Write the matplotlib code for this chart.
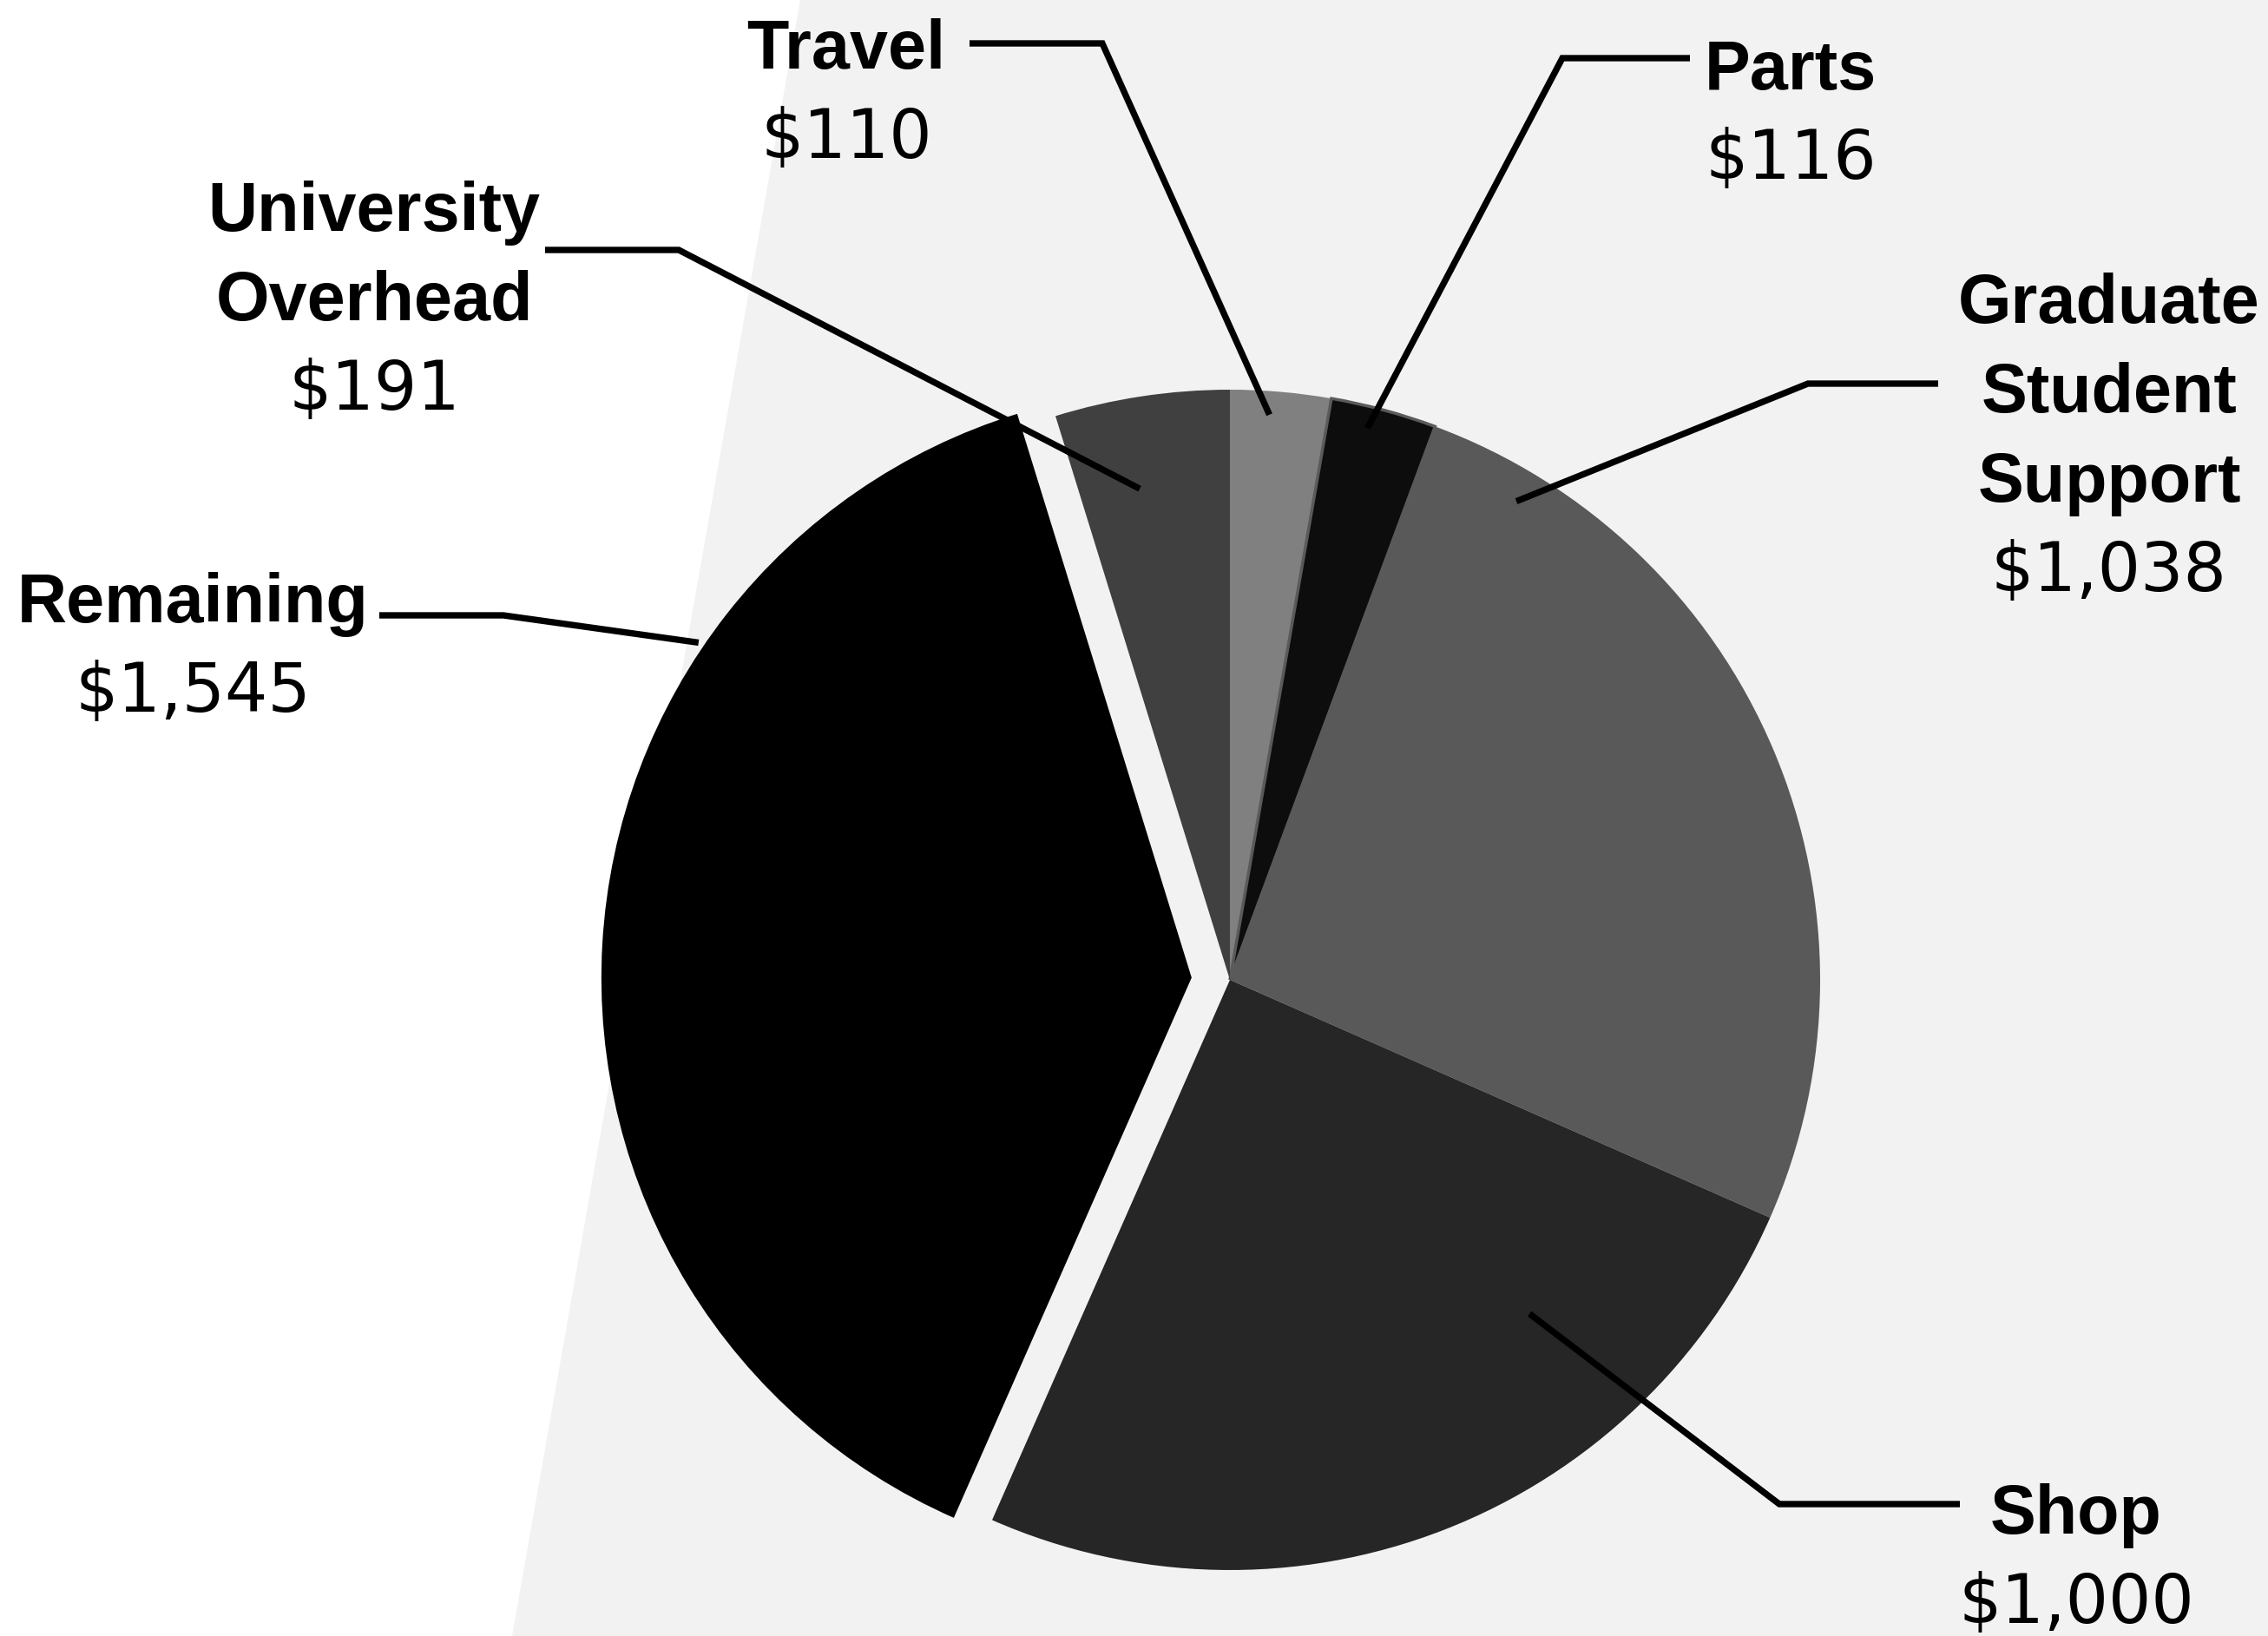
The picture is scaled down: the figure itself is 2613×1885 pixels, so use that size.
import matplotlib
matplotlib.use("Agg")
import matplotlib.pyplot as plt
import numpy as np
from matplotlib.patches import Polygon

# ---- data ----
categories = ["Travel", "Parts", "Graduate\nStudent\nSupport", "Shop", "Remaining", "University\nOverhead"]
values = [110, 116, 1038, 1000, 1545, 191]
colors = ["#808080", "#0d0d0d", "#595959", "#262626", "#000000", "#404040"]
explode = [0, 0, 0, 0, 0.065, 0]

# ---- layout (pixels, top-down) ----
W, H = 2613, 1885
CX, CY, R = 1417, 1129, 680
label_x = [975, 2063, 2430, 2392, 222, 431]
first_baseline = [79, 103, 372, 1767, 717, 266]
line_step = 103
leader_y = [50, 67, 442, 1733, 709, 288]
leader_x0 = [1117, 1947, 2233, 2258, 437, 628]
leader_x1 = [1270, 1800, 2083, 2050, 580, 782]
anchor_ang = [86.0, 76.0, 59.1, -48.1, 145.8, 100.4]
anchor_r = [0.96, 0.964, 0.945, 0.76, 1.01, 0.846]


def P(x, y):
    return ((x - CX) / R, (CY - y) / R)


fig = plt.figure(figsize=(W / 100, H / 100), dpi=100)
fig.patch.set_facecolor("white")
ax = fig.add_axes([0, 0, 1, 1])

# background band
bg = Polygon([P(922, 0), P(W, 0), P(W, H), P(590, H)], closed=True,
             facecolor="#f2f2f2", edgecolor="none", zorder=0)
ax.add_patch(bg)

wedges, _ = ax.pie(values, colors=colors, explode=explode, startangle=90,
                   counterclock=False, radius=1, center=(0, 0), frame=True,
                   wedgeprops=dict(linewidth=0, zorder=2))
wedges[1].set_edgecolor("#5a5a5a")
wedges[1].set_linewidth(2.5)

ax.set_xlim(P(0, 0)[0], P(W, 0)[0])
ax.set_ylim(P(0, H)[1], P(0, 0)[1])
ax.axis("off")

name_font = dict(family=["Liberation Sans", "DejaVu Sans"], weight="bold", size=57)
val_font = dict(family=["DejaVu Sans"], weight="normal", size=56)

for i, (cat, v) in enumerate(zip(categories, values)):
    lines = cat.split("\n")
    for j, ln in enumerate(lines):
        x, y = P(label_x[i], first_baseline[i] + j * line_step)
        ax.text(x, y, ln, ha="center", va="baseline", zorder=5, **name_font)
    x, y = P(label_x[i], first_baseline[i] + len(lines) * line_step)
    ax.text(x, y, f"${v:,}", ha="center", va="baseline", zorder=5, **val_font)

    # leader line
    cx, cy = wedges[i].center
    a = np.deg2rad(anchor_ang[i])
    ex, ey = cx + anchor_r[i] * np.cos(a), cy + anchor_r[i] * np.sin(a)
    p0 = P(leader_x0[i], leader_y[i])
    p1 = P(leader_x1[i], leader_y[i])
    ax.plot([p0[0], p1[0], ex], [p0[1], p1[1], ey], color="black", lw=5.3,
            solid_capstyle="butt", solid_joinstyle="miter", zorder=4)

fig.savefig("out.png", dpi=100, facecolor="white")
